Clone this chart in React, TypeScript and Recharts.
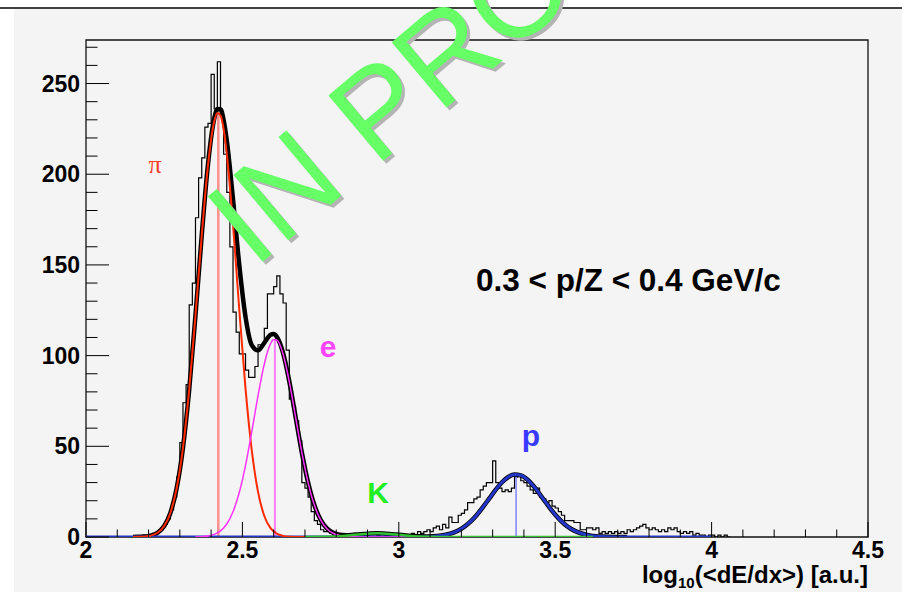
import React from 'react';
import { ComposedChart, Line, XAxis, YAxis, ReferenceArea } from 'recharts';

const W = 902;
const H = 592;
const FONT = '"Liberation Sans", Arial, Helvetica, sans-serif';

// Histogram: counts per 0.01-wide bin starting at log10(dE/dx) = 2.00
const histStart = 2.0;
const histBinWidth = 0.01;
const histCounts = [
  0, 0, 0, 0, 0, 0, 0, 0, 0, 0, 0, 0, 0, 0, 0, 0, 0,
  0, 1, 0, 1, 1, 2, 3, 5, 7, 10, 15, 22, 33,
  52, 74, 84, 128, 140, 176, 198, 209, 226, 228,
  255, 236, 262, 232, 211, 190, 160, 124, 113, 101,
  101, 92, 88, 88, 94, 106, 106, 115, 134, 134,
  138, 144, 134, 129, 103, 76, 72, 64, 53, 30,
  27, 22, 14, 9, 7, 4, 3, 3, 2, 1,
  1, 1, 0, 1, 0, 0, 1, 0, 0, 1,
  0, 0, 0, 1, 0, 0, 0, 0, 1, 0,
  0, 0, 1, 0, 2, 1, 3, 2, 3, 4,
  3, 5, 6, 4, 7, 5, 11, 8, 8, 12,
  13, 15, 19, 19, 21, 22, 26, 28, 30, 30,
  42, 30, 27, 25, 26, 25, 27, 33, 34, 31,
  30, 28, 26, 24, 27, 22, 21, 19, 20, 17,
  16, 14, 12, 9, 9, 9, 8, 8, 4, 4,
  5, 5, 4, 5, 2, 3, 2, 3, 2, 3,
  2, 3, 2, 4, 3, 4, 5, 6, 7, 5,
  4, 5, 4, 3, 4, 3, 5, 4, 5, 3,
  2, 3, 2, 3, 1, 2, 1, 1, 0, 1,
  1, 0, 1, 0, 1, 0,
];

// Fit curves
const pionFitX = [2.15, 2.17, 2.19, 2.21, 2.23, 2.25, 2.27, 2.29, 2.31, 2.33, 2.35, 2.37, 2.39, 2.41, 2.42, 2.43, 2.44, 2.45, 2.47, 2.49, 2.51, 2.53, 2.55, 2.57, 2.59, 2.61, 2.63, 2.65, 2.67, 2.69, 2.71];
const pionFitY = [0.03, 0.09, 0.31, 0.92, 2.48, 6.06, 13.4, 27.0, 49.2, 81.4, 122.1, 166.1, 204.9, 229.2, 233.7, 232.4, 224.8, 211.5, 172.2, 125.4, 81.8, 47.7, 24.9, 11.6, 4.87, 1.82, 0.61, 0.18, 0.05, 0.01, 0];

const electronFitX = [2.35, 2.37, 2.39, 2.41, 2.43, 2.45, 2.47, 2.49, 2.51, 2.53, 2.55, 2.57, 2.59, 2.6, 2.61, 2.63, 2.65, 2.67, 2.69, 2.71, 2.73, 2.75, 2.77, 2.79, 2.81, 2.83, 2.85, 2.87, 2.95, 3.1];
const electronFitY = [0.07, 0.2, 0.57, 1.45, 3.37, 7.16, 13.9, 24.5, 39.5, 58.1, 78.0, 95.4, 106.6, 108.9, 108.6, 100.9, 85.5, 66.1, 46.6, 30.0, 17.6, 9.4, 4.6, 2.06, 0.84, 0.31, 0.1, 0.03, 0, 0];

const kaonFitX = [2.7, 2.75, 2.77, 2.79, 2.81, 2.83, 2.85, 2.87, 2.89, 2.91, 2.93, 2.95, 2.97, 2.99, 3.01, 3.03, 3.05, 3.07, 3.09, 3.11, 3.13, 3.2, 3.62];
const kaonFitY = [0, 0.07, 0.15, 0.27, 0.46, 0.72, 1.04, 1.39, 1.7, 1.92, 2.0, 1.92, 1.7, 1.39, 1.04, 0.72, 0.46, 0.27, 0.15, 0.07, 0.03, 0, 0];

const protonFitX = [2.0, 2.95, 3.01, 3.05, 3.09, 3.11, 3.13, 3.15, 3.17, 3.19, 3.21, 3.23, 3.25, 3.27, 3.29, 3.31, 3.33, 3.35, 3.37, 3.39, 3.41, 3.43, 3.45, 3.47, 3.49, 3.51, 3.53, 3.55, 3.57, 3.59, 3.61, 3.63, 3.65, 3.69, 3.73, 3.8, 4.0];
const protonFitY = [0, 0, 0.005, 0.03, 0.16, 0.33, 0.65, 1.22, 2.15, 3.6, 5.71, 8.6, 12.3, 16.7, 21.4, 26.1, 30.2, 33.1, 34.4, 34.0, 31.8, 28.3, 23.8, 19.0, 14.4, 10.4, 7.06, 4.56, 2.8, 1.63, 0.9, 0.47, 0.23, 0.05, 0.01, 0, 0];

const totalFitX = [2.15, 2.17, 2.19, 2.21, 2.23, 2.25, 2.27, 2.29, 2.31, 2.33, 2.35, 2.37, 2.39, 2.41, 2.42, 2.43, 2.44, 2.45, 2.47, 2.49, 2.51, 2.53, 2.55, 2.57, 2.59, 2.6, 2.61, 2.63, 2.65, 2.67, 2.69, 2.71, 2.73, 2.75, 2.77, 2.79, 2.81, 2.83, 2.85, 2.87, 2.89, 2.91, 2.93, 2.95, 2.97, 2.99, 3.01, 3.03, 3.05, 3.07, 3.09, 3.11, 3.13, 3.15, 3.17, 3.19, 3.21, 3.23, 3.25, 3.27, 3.29, 3.31, 3.33, 3.35, 3.37, 3.39, 3.41, 3.43, 3.45, 3.47, 3.49, 3.51, 3.53, 3.55, 3.57, 3.59, 3.61, 3.63, 3.65, 3.69, 3.73];
const totalFitY = [0.03, 0.09, 0.31, 0.92, 2.48, 6.06, 13.4, 27.0, 49.2, 81.4, 122.2, 166.3, 205.5, 230.7, 235.9, 235.8, 229.8, 218.7, 186.1, 149.9, 121.3, 105.8, 102.9, 107.0, 111.5, 111.9, 110.4, 101.5, 85.7, 66.2, 46.6, 30.0, 17.6, 9.5, 4.75, 2.33, 1.3, 1.03, 1.14, 1.42, 1.7, 1.92, 2.0, 1.92, 1.7, 1.39, 1.05, 0.72, 0.49, 0.35, 0.31, 0.4, 0.68, 1.22, 2.15, 3.6, 5.71, 8.6, 12.3, 16.7, 21.4, 26.1, 30.2, 33.1, 34.4, 34.0, 31.8, 28.3, 23.8, 19.0, 14.4, 10.4, 7.06, 4.56, 2.8, 1.63, 0.9, 0.47, 0.23, 0.05, 0.01];

// Peak positions (mean, height) of the three main fits
const peakMeans = [2.423, 2.604, 3.375];
const peakHeights = [234, 109, 34.4];
const peakColors = ['#ff8f8f', '#ff7cff', '#8282ff'];
const peakWidths = [2.5, 2, 1.5];

// Axes
const xTicks = [2, 2.1, 2.2, 2.3, 2.4, 2.5, 2.6, 2.7, 2.8, 2.9, 3, 3.1, 3.2, 3.3, 3.4, 3.5, 3.6, 3.7, 3.8, 3.9, 4, 4.1, 4.2, 4.3, 4.4, 4.5];
const xMajorLabels = ['2', '2.5', '3', '3.5', '4', '4.5'];
const yTicks = [0, 10, 20, 30, 40, 50, 60, 70, 80, 90, 100, 110, 120, 130, 140, 150, 160, 170, 180, 190, 200, 210, 220, 230, 240, 250, 260, 270];
const yMajorLabels = ['0', '50', '100', '150', '200', '250'];
const xDomain = [2, 4.5];
const yDomain = [0, 274];

const zip = (xs: number[], ys: number[]) =>
  xs.slice(0, Math.min(xs.length, ys.length)).map((x, i) => ({ x, y: ys[i] }));

const histData = [
  ...histCounts.map((c, i) => ({ x: Number((histStart + i * histBinWidth).toFixed(2)), y: c })),
  { x: Number((histStart + histCounts.length * histBinWidth).toFixed(2)), y: 0 },
];

const findLabel = (labels: string[], v: number) =>
  labels.find((l) => Math.abs(parseFloat(l) - v) < 1e-6);

const XTick = (props: any) => {
  const { x, y, payload } = props;
  const label = findLabel(xMajorLabels, payload.value);
  return (
    <g>
      <line x1={x} x2={x} y1={y} y2={y - (label ? 15 : 7.5)} stroke="#000" strokeWidth={1} />
      {label && (
        <text x={x} y={y + 21} textAnchor="middle" fontFamily={FONT} fontWeight="bold" fontSize={23} fill="#000">
          {label}
        </text>
      )}
    </g>
  );
};

const YTick = (props: any) => {
  const { x, y, payload } = props;
  const label = findLabel(yMajorLabels, payload.value);
  return (
    <g>
      <line x1={x} x2={x + (label ? 23 : 11.5)} y1={y} y2={y} stroke="#000" strokeWidth={1} />
      {label && (
        <text x={x - 6} y={y + 8} textAnchor="end" fontFamily={FONT} fontWeight="bold" fontSize={23} fill="#000">
          {label}
        </text>
      )}
    </g>
  );
};

const lineCommon = { dataKey: 'y', dot: false, activeDot: false, isAnimationActive: false, legendType: 'none' as const };

export default function App() {
  return (
    <div style={{ position: 'absolute', left: 0, top: 0, width: W, height: H, background: '#fff', overflow: 'hidden' }}>
      <svg width={W} height={H} style={{ position: 'absolute', left: 0, top: 0 }}>
        <rect x={0} y={0} width={W} height={H} fill="#ffffff" />
        <rect x={14} y={9} width={W - 14} height={H - 9} fill="#f4f4f4" />
        <line x1={0} x2={W} y1={8} y2={8} stroke="#000" strokeWidth={1.5} />
      </svg>
      <div style={{ position: 'absolute', left: 0, top: 0 }}>
        <ComposedChart width={W} height={H} margin={{ top: 40, right: 34, bottom: 25, left: 26 }}>
          <ReferenceArea
            x1={xDomain[0]}
            x2={xDomain[1]}
            y1={yDomain[0]}
            y2={yDomain[1]}
            fill="none"
            fillOpacity={0}
            stroke="#111"
            strokeWidth={1.3}
            ifOverflow="visible"
          />
          <XAxis
            type="number"
            dataKey="x"
            domain={xDomain}
            ticks={xTicks}
            interval={0}
            tick={<XTick />}
            tickLine={false}
            axisLine={false}
            tickSize={0}
            tickMargin={0}
            height={30}
            allowDataOverflow
          />
          <YAxis
            type="number"
            dataKey="y"
            domain={yDomain}
            ticks={yTicks}
            interval={0}
            tick={<YTick />}
            tickLine={false}
            axisLine={false}
            tickSize={0}
            tickMargin={0}
            width={60}
            allowDataOverflow
          />
          <Line {...lineCommon} name="hist" data={histData} type="stepAfter" stroke="#000" strokeWidth={1.2} />
          {peakMeans.map((m, i) => (
            <Line
              key={'peak' + i}
              {...lineCommon}
              name={'peak' + i}
              data={[{ x: m, y: 0 }, { x: m, y: peakHeights[i] }]}
              type="linear"
              stroke={peakColors[i]}
              strokeWidth={peakWidths[i]}
            />
          ))}
          <Line {...lineCommon} name="total" data={zip(totalFitX, totalFitY)} type="monotone" stroke="#000" strokeWidth={4.5} />
          <Line {...lineCommon} name="proton" data={zip(protonFitX, protonFitY)} type="monotone" stroke="#2436c8" strokeWidth={3} />
          <Line {...lineCommon} name="pion" data={zip(pionFitX, pionFitY)} type="monotone" stroke="#ff2a00" strokeWidth={2} />
          <Line {...lineCommon} name="electron" data={zip(electronFitX, electronFitY)} type="monotone" stroke="#ff33ff" strokeWidth={1.5} />
          <Line {...lineCommon} name="kaon" data={zip(kaonFitX, kaonFitY)} type="monotone" stroke="#33c033" strokeWidth={2.5} />
        </ComposedChart>
      </div>
      <svg width={W} height={H} style={{ position: 'absolute', left: 0, top: 0, pointerEvents: 'none' }}>
        <text x={476} y={291} fontFamily={FONT} fontWeight="bold" fontSize={31.5} fill="#000">
          0.3 &lt; p/Z &lt; 0.4 GeV/c
        </text>
        <text x={155} y={173} textAnchor="middle" fontFamily='"Liberation Serif", "DejaVu Serif", serif' fontSize={26} fill="#ff3b2a">
          π
        </text>
        <text x={328} y={357} textAnchor="middle" fontFamily={FONT} fontWeight="bold" fontSize={30} fill="#ff44ff">
          e
        </text>
        <text x={378} y={503} textAnchor="middle" fontFamily={FONT} fontWeight="bold" fontSize={30} fill="#22ee22">
          K
        </text>
        <text x={531} y={446} textAnchor="middle" fontFamily={FONT} fontWeight="bold" fontSize={30} fill="#3a3aff">
          p
        </text>
        <text x={868} y={583} textAnchor="end" fontFamily={FONT} fontWeight="bold" fontSize={24} fill="#000">
          log
          <tspan fontSize={15} dy={5}>10</tspan>
          <tspan dy={-5}>(&lt;dE/dx&gt;) [a.u.]</tspan>
        </text>
        <g transform="translate(257,272) rotate(-40)">
          <text x={0} y={0} fontFamily={FONT} fontSize={124} fill="#b4b4b4">IN PROGRESS</text>
        </g>
        <g transform="translate(254,269) rotate(-40)">
          <text x={0} y={0} fontFamily={FONT} fontSize={124} fill="#66ff66">IN PROGRESS</text>
        </g>
      </svg>
    </div>
  );
}
